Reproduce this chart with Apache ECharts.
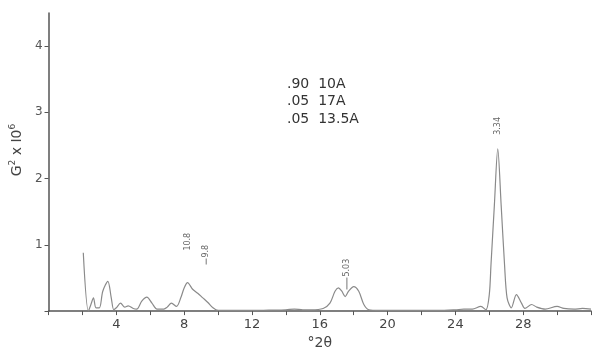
<!DOCTYPE html>
<html>
<head>
<meta charset="utf-8">
<script src="https://cdn.jsdelivr.net/npm/echarts@6/dist/echarts.min.js"></script>
<style>html,body{margin:0;padding:0;background:#fff}#c{width:597px;height:355px}</style>
</head>
<body>
<div id="c"></div>
<script>
// °2θ positions and G²×10⁶ values
var theta = [2.05,2.35,2.5,2.65,2.8,3.0,3.2,3.5,3.7,3.85,4.0,4.25,4.5,4.7,5.0,5.2,5.5,5.8,6.1,6.4,6.8,7.0,7.25,7.55,7.8,8.0,8.2,8.5,8.8,9.1,9.4,9.7,10.0,11,12,13,14,14.5,15,15.5,16.2,16.6,16.9,17.1,17.3,17.5,17.7,18.0,18.3,18.6,18.9,19.5,20,21,22,23,24,24.5,25,25.5,25.8,26.0,26.1,26.3,26.5,26.7,26.9,27.05,27.3,27.6,27.9,28.1,28.5,28.8,29.3,30.0,30.4,31,31.5,32];
var gValues = [0.88,0.0,0.1,0.2,0.05,0.05,0.3,0.45,0.2,0.02,0.05,0.12,0.06,0.08,0.04,0.03,0.15,0.21,0.12,0.03,0.03,0.06,0.12,0.07,0.2,0.35,0.43,0.33,0.27,0.2,0.13,0.05,0.01,0.01,0.01,0.015,0.02,0.03,0.02,0.02,0.04,0.12,0.3,0.35,0.3,0.22,0.3,0.37,0.3,0.1,0.02,0.01,0.01,0.01,0.01,0.01,0.02,0.03,0.03,0.07,0.02,0.25,0.7,1.6,2.45,1.6,0.7,0.2,0.05,0.25,0.12,0.04,0.1,0.06,0.03,0.07,0.04,0.03,0.04,0.03];
var xTickLabels = [4,8,12,16,20,24,28];
var yTickLabels = [1,2,3,4];
var peakLabels = ['10.8','9.8','5.03','3.34'];
var peakTheta = [8.2,9.3,17.6,26.5];
var peakG = [0.43,0.22,0.22,2.45];
var compLines = ['.90  10A','.05  17A','.05  13.5A'];

var data = theta.map(function(t,i){return [t,gValues[i]];});
var chart = echarts.init(document.getElementById('c'));
var font = 'DejaVu Sans';
chart.setOption({
  animation:false,
  grid:{left:48,right:6,top:13,bottom:38},
  xAxis:{
    type:'value',min:0,max:32,interval:2,
    name:'°2θ',nameLocation:'middle',nameGap:24,
    nameTextStyle:{fontFamily:font,fontSize:14,color:'#444'},
    axisLine:{lineStyle:{color:'#555',width:1.5}},
    axisTick:{show:true,length:4,lineStyle:{color:'#555'}},
    splitLine:{show:false},
    axisLabel:{fontFamily:font,fontSize:13,color:'#444',margin:7,
      formatter:function(v){return xTickLabels.indexOf(v)>=0?String(v):'';}}
  },
  yAxis:{
    type:'value',min:0,max:4.5,interval:1,
    name:'{a|G}{s|2}{a| x I0}{s|6}',nameLocation:'middle',nameGap:13,nameRotate:90,
    nameTextStyle:{padding:[0,0,0,24],rich:{a:{fontFamily:font,fontSize:14,color:'#444'},s:{fontFamily:font,fontSize:9,color:'#444',padding:[0,0,9,0]}}},
    axisLine:{show:true,lineStyle:{color:'#555',width:1.5}},
    axisTick:{show:true,length:4,lineStyle:{color:'#555'}},
    splitLine:{show:false},
    axisLabel:{fontFamily:font,fontSize:12,color:'#555',margin:6,showMaxLabel:false,
      formatter:function(v){return yTickLabels.indexOf(v)>=0?String(v):'';}}
  },
  series:[{type:'line',data:data,smooth:0.3,showSymbol:false,
    lineStyle:{color:'#8a8a8a',width:1.2}}]
});

var g = [];
// [label bottom offset above point, leader line length]
var offs = [[32,0],[39,6],[20,12],[14,0]];
peakLabels.forEach(function(lab,i){
  var p = chart.convertToPixel({gridIndex:0},[peakTheta[i],peakG[i]]);
  var off = offs[i][0], ll = offs[i][1];
  if(ll>0){
    g.push({type:'line',shape:{x1:p[0],y1:p[1]-off+ll+1,x2:p[0],y2:p[1]-off+1},style:{stroke:'#777',lineWidth:1}});
  }
  g.push({type:'text',x:p[0],y:p[1]-off,rotation:Math.PI/2,
    style:{text:lab,fontFamily:font,fontSize:8,fill:'#666',align:'left',verticalAlign:'middle'}});
});
compLines.forEach(function(t,i){
  g.push({type:'text',x:287,y:84+i*17.5,style:{text:t,fontFamily:font,fontSize:14,fill:'#333',align:'left',verticalAlign:'middle'}});
});
chart.setOption({graphic:g});
</script>
</body>
</html>
